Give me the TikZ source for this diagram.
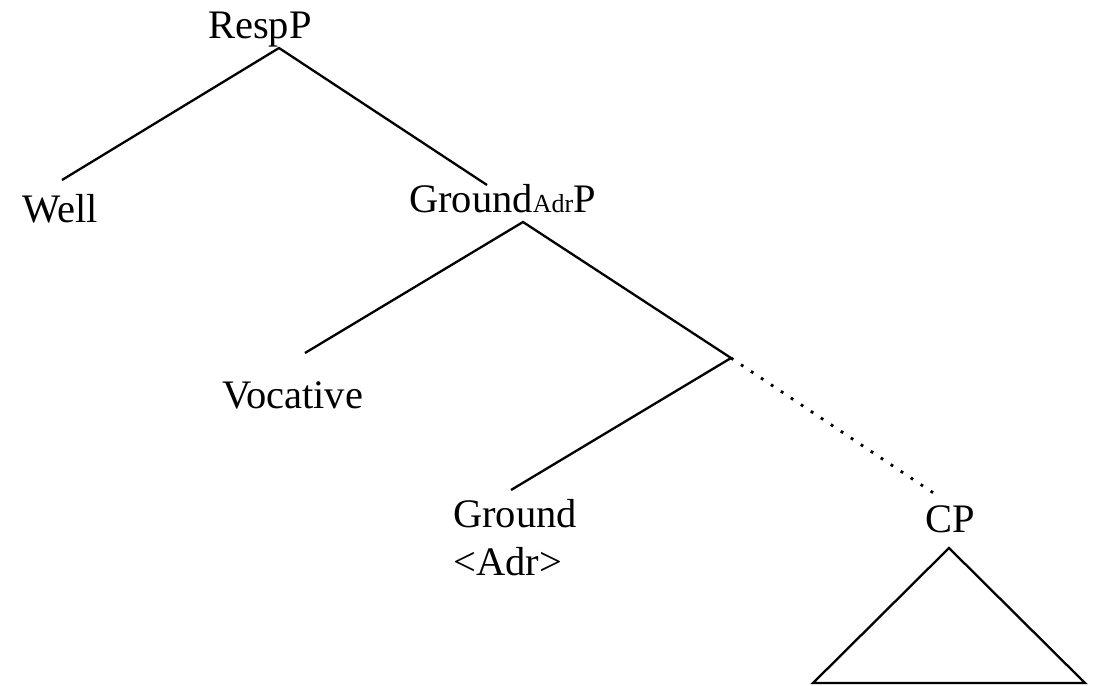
\documentclass[tikz,border=0pt]{standalone}
\usepackage{fontspec}
\setmainfont{Liberation Serif}
\usetikzlibrary{positioning}

\begin{document}
\begin{tikzpicture}[x=1pt,y=-1pt,font=\fontsize{40.5}{48}\selectfont,
      lbl/.style={inner sep=0pt,anchor=base west,align=left},
      br/.style={line width=2.3pt},
      dot/.style={line width=2.8pt,dash pattern=on 2.8pt off 9.2pt}]
      \useasboundingbox (0,0) rectangle (1102,685);
      \node[lbl] (resp)   at (208,39)  {RespP};
      \node[lbl] (well)   at (22,222)  {Well};
      \node[lbl] (gadr)   at (409,212) {Ground{\fontsize{26}{30}\selectfont Adr}P};
      \node[lbl] (voc)    at (222,408) {Vocative};
      \node[lbl] (ground) at (453,575) {Ground\\<Adr>};
      \node[lbl] (cp)     at (925,532) {CP};
      \coordinate (resp-f) at (279,48);  \coordinate (well-t) at (62,180);
      \coordinate (gadr-t) at (487,185); \coordinate (gadr-f) at (523,222);
      \coordinate (voc-t)  at (305,353); \coordinate (bar)    at (731,358);
      \coordinate (gr-t)   at (511,490); \coordinate (cp-t)   at (938,496);
      \coordinate (cp-f)   at (949,548);
      \coordinate (tri-l)  at (813,683); \coordinate (tri-r)  at (1085,683);
      \draw[br] (well-t) -- (resp-f) -- (gadr-t);
      \draw[br] (voc-t) -- (gadr-f) -- (bar) -- (gr-t);
      \draw[dot] (bar) -- (cp-t);
      \draw[br,line join=miter] (cp-f) -- (tri-r) -- (tri-l) -- cycle;
    \end{tikzpicture}
\end{document}
